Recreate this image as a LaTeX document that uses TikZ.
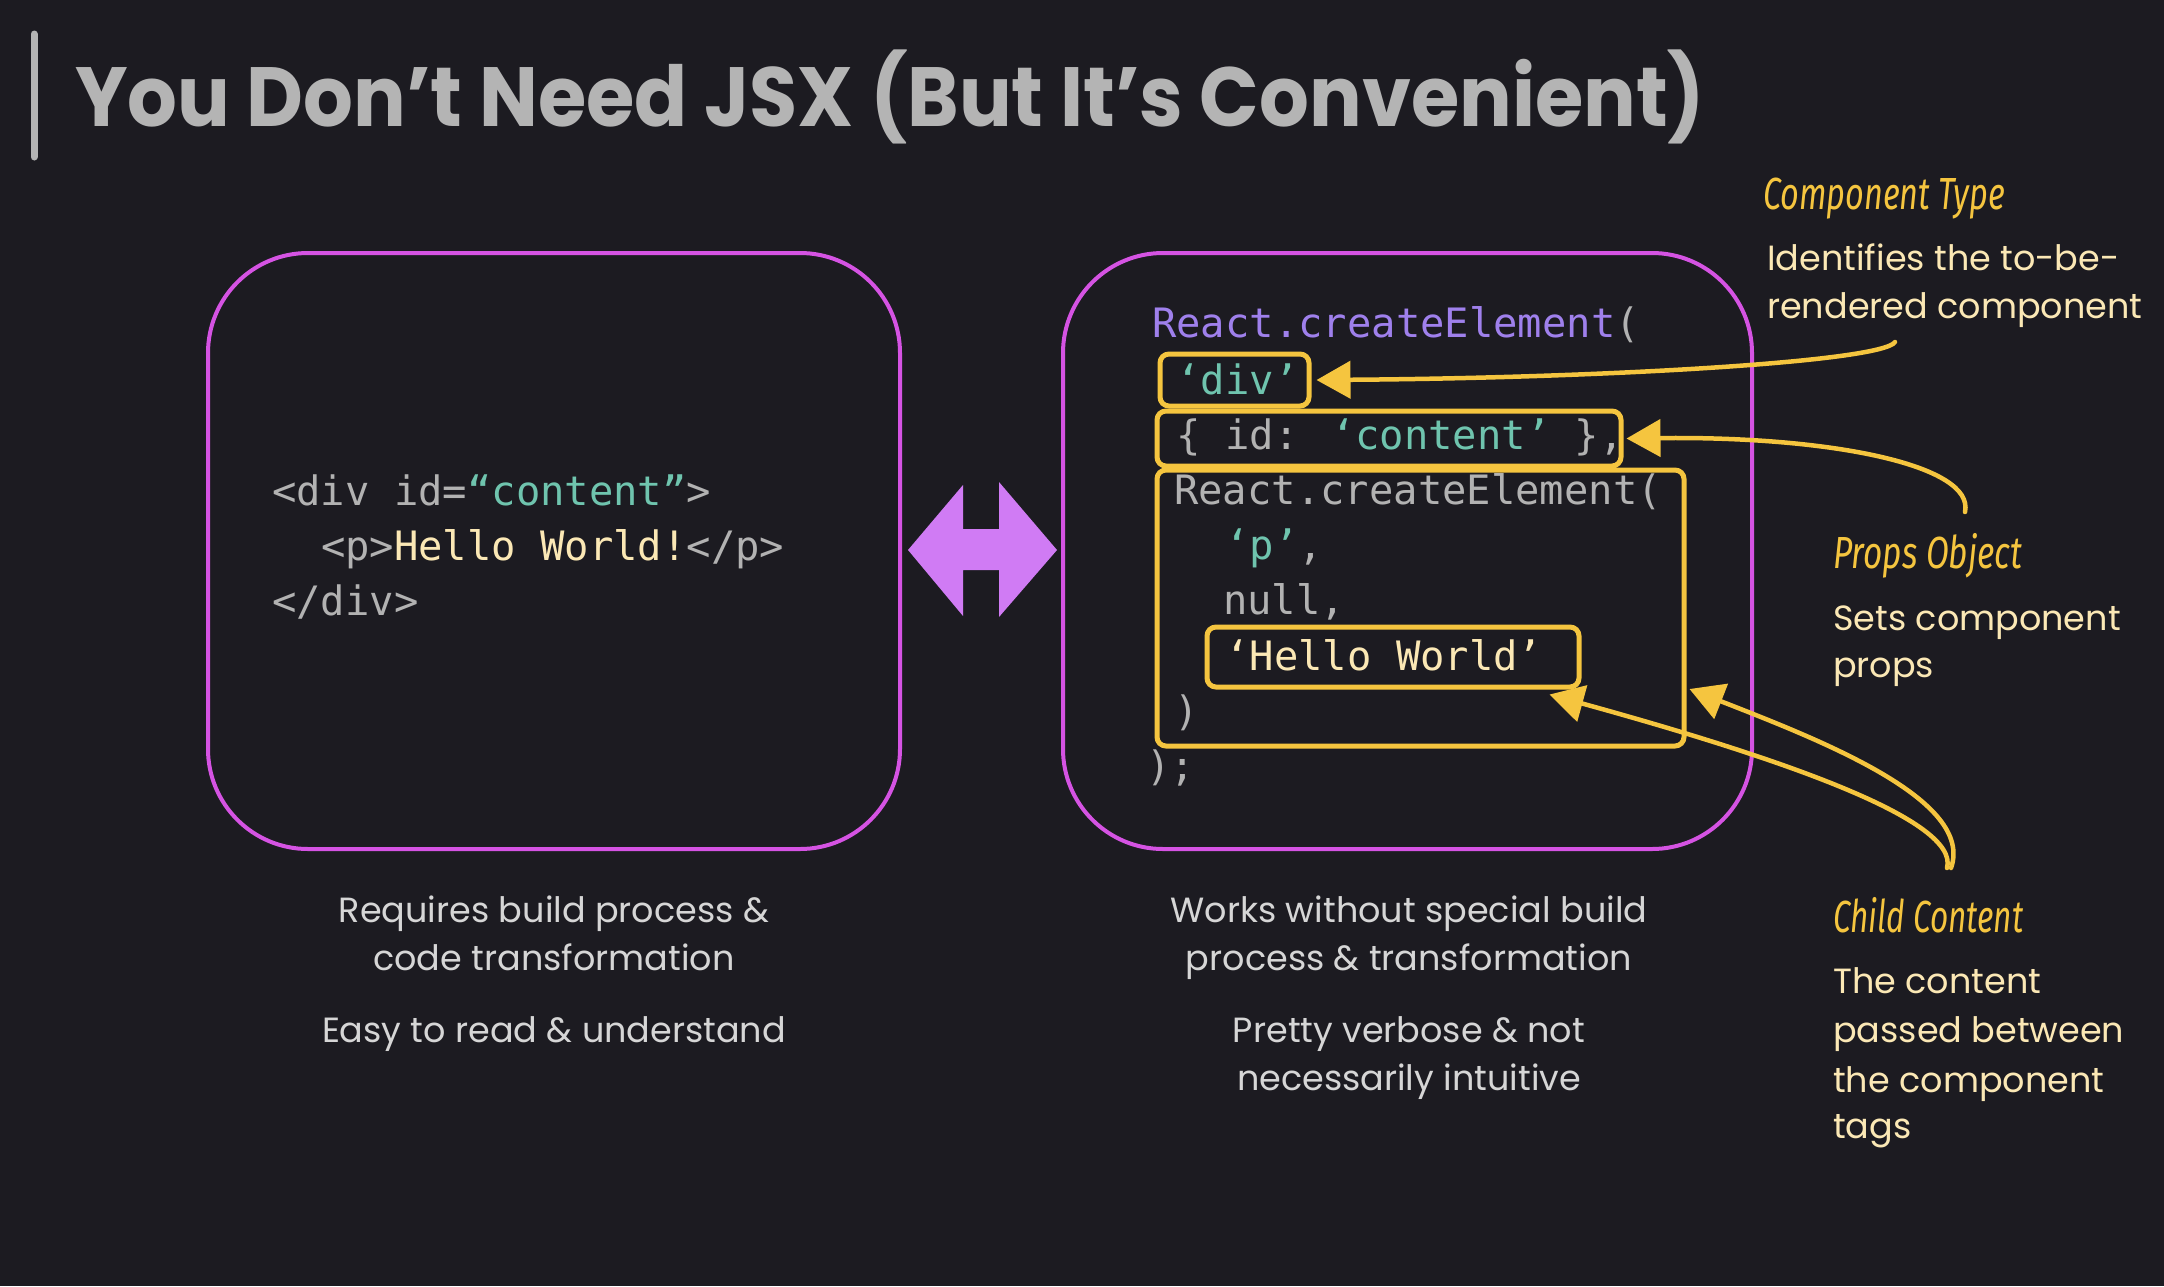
\documentclass[tikz,border=0pt]{standalone}
\usepackage{fontspec}
\usepackage{graphicx}
\setmainfont{Poppins}
\newfontfamily\codefont{DejaVu Sans Mono}
\newfontfamily\handfont{Fira Sans}
\usetikzlibrary{arrows.meta}
\definecolor{bg}{HTML}{1C1B21}
\definecolor{mag}{HTML}{D553E3}
\definecolor{dblarrow}{HTML}{D07BF4}
\definecolor{ylw}{HTML}{F5C53F}
\definecolor{cream}{HTML}{FBE8B5}
\definecolor{codegray}{HTML}{B2B2B2}
\definecolor{teal}{HTML}{6FC4AE}
\definecolor{rpurple}{HTML}{9F80EC}
\definecolor{titlegray}{HTML}{B4B4B4}
\definecolor{bottomgray}{HTML}{D6D6D6}
\tikzset{
  codeline/.style={anchor=base west, inner sep=0pt, text=codegray,
    font=\codefont\fontsize{40.5}{40.5}\selectfont},
  desc/.style={anchor=base west, inner sep=0pt, text=cream,
    font=\fontsize{35}{35}\selectfont},
  handlabel/.style={anchor=base west, inner sep=0pt, text=ylw},
  bottomtext/.style={anchor=base, inner sep=0pt, text=bottomgray,
    font=\fontsize{35}{35}\selectfont},
  panel/.style={draw=mag, line width=4pt, rounded corners=100pt, inner sep=0pt},
  ybox/.style={draw=ylw, line width=5pt, rounded corners=9pt, inner sep=0pt},
  conn/.style={draw=ylw, line width=4.5pt, line cap=round,
    -{Triangle[length=34pt,width=37pt]}},
}
\begin{document}
\begin{tikzpicture}[x=1pt,y=-1pt]
\fill[bg] (0,0) rectangle (2164,1286);
\useasboundingbox (0,0) rectangle (2164,1286);

% title
\draw[titlegray, line width=7pt, line cap=round] (34,34) -- (34,157);
\node[anchor=base west, inner sep=0pt, text=titlegray] (title) at (75,126)
  {\resizebox{1630pt}{\height}{\fontsize{84}{84}\selectfont\bfseries You Don’t Need JSX (But It’s Convenient)}};

% panels
\node[panel, minimum width=692pt, minimum height=596pt] (jsxpanel) at (554,551) {};
\node[panel, minimum width=689pt, minimum height=596pt] (cepanel) at (1407.5,551) {};

% double arrow
\fill[dblarrow] (908,550) -- (963,485) -- (963,529) -- (999,529) -- (999,482)
  -- (1057,550) -- (999,617) -- (999,570) -- (963,570) -- (963,616) -- cycle;

% left code
\node[codeline] (l1) at (272,505) {<div id=\textcolor{teal}{“content”}>};
\node[codeline] (l2) at (320.8,560) {<p>\textcolor{cream}{Hello World!}</p>};
\node[codeline] (l3) at (272,615) {</div>};

% right code
\node[codeline] (r1) at (1152,337) {\textcolor{rpurple}{React.createElement}(};
\node[codeline] (r2) at (1176.4,394) {\textcolor{teal}{‘div’}};
\node[codeline] (r3) at (1176.4,449) {\{ id: \textcolor{teal}{‘content’} \},};
\node[codeline] (r4) at (1174,504) {React.createElement(};
\node[codeline] (r5) at (1225.2,559) {\textcolor{teal}{‘p’},};
\node[codeline] (r6) at (1223,614) {null,};
\node[codeline] (r7) at (1225.2,670) {\textcolor{cream}{‘Hello World’}};
\node[codeline] (r8) at (1174,725) {)};
\node[codeline] (r9) at (1146,780) {);};

% yellow boxes
\node[ybox, minimum width=149pt, minimum height=52pt] (divbox) at (1234.5,380) {};
\node[ybox, minimum width=464pt, minimum height=55pt] (propbox) at (1389,438.5) {};
\node[ybox, minimum width=527pt, minimum height=276pt] (childbox) at (1420.5,608) {};
\node[ybox, minimum width=372pt, minimum height=60pt] (hellobox) at (1393,657) {};

% labels right
\node[handlabel] (ctlabel) at (1763,209)
  {\resizebox{242pt}{\height}{\handfont\itshape\fontsize{45}{45}\selectfont Component Type}};
\node[desc] (ctd1) at (1767,270) {Identifies the to-be-};
\node[desc] (ctd2) at (1767,318) {rendered component};

\node[handlabel] (polabel) at (1833,568)
  {\resizebox{189pt}{\height}{\handfont\itshape\fontsize{45}{45}\selectfont Props Object}};
\node[desc] (pod1) at (1833,630) {Sets component};
\node[desc] (pod2) at (1833,677) {props};

\node[handlabel] (cclabel) at (1833,932)
  {\resizebox{190pt}{\height}{\handfont\itshape\fontsize{45}{45}\selectfont Child Content}};
\node[desc] (ccd1) at (1833,993) {The content};
\node[desc] (ccd2) at (1833,1042) {passed between};
\node[desc] (ccd3) at (1833,1092) {the component};
\node[desc] (ccd4) at (1833,1138) {tags};

% bottom texts
\node[bottomtext] (b1) at (554,922) {Requires build process \&};
\node[bottomtext] (b2) at (554,970) {code transformation};
\node[bottomtext] (b3) at (554,1042) {Easy to read \& understand};
\node[bottomtext] (b4) at (1409,922) {Works without special build};
\node[bottomtext] (b5) at (1409,970) {process \& transformation};
\node[bottomtext] (b6) at (1409,1042) {Pretty verbose \& not};
\node[bottomtext] (b7) at (1409,1090) {necessarily intuitive};

% connectors
\coordinate (ctend) at (1895,342);
\coordinate (poend) at (1965,512);
\coordinate (ccend) at (1947,868);
\coordinate (ccend2) at (1951,868);
\coordinate (hellotip) at ([shift={(-32,5)}]hellobox.south east);
\coordinate (childtip) at ([shift={(3,81)}]childbox.east);

\draw[conn] (ctend) .. controls (1882,362) and (1600,378) .. ([xshift=5pt]divbox.east);
\draw[conn] (poend) .. controls (1975,465) and (1830,436) .. ([xshift=3pt]propbox.east);
\draw[conn] (ccend) .. controls (1960,820) and (1780,758) .. (hellotip);
\draw[conn] (ccend2) .. controls (1975,800) and (1820,740) .. (childtip);
\end{tikzpicture}
\end{document}
